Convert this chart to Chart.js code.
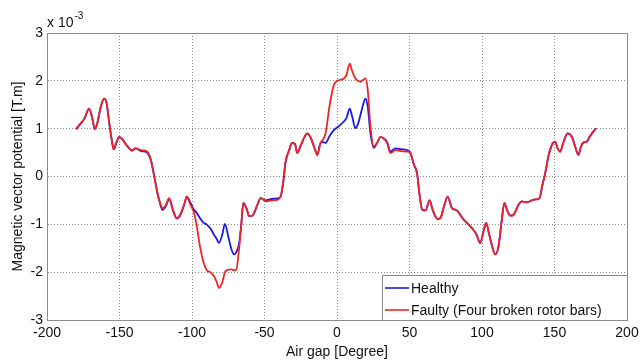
<!DOCTYPE html>
<html>
<head>
<meta charset="utf-8">
<script src="https://cdn.jsdelivr.net/npm/chart.js@4.4.1/dist/chart.umd.min.js"></script>
<style>
  html, body { margin: 0; padding: 0; background: #fff; }
  #wrap { width: 640px; height: 363px; }
</style>
</head>
<body>
<div id="wrap"><canvas id="grafico" width="640" height="363"></canvas></div>
<script>
// ángulo del entrehierro (grados) y potencial vectorial (x 10^-3 T.m)
const angulo = [
    -180, -177, -174, -171, -169, -167, -165, -163, -160.6, -159,
    -157, -155, -154, -152, -150.3, -148, -145, -143, -141.5, -138.8,
    -135, -132, -130, -128.4, -126, -123.8, -122, -120.4, -118, -115.8,
    -113, -110.5, -108, -105, -103.7,
    -101, -99, -97, -94.5, -92, -90, -87, -85, -83, -81.4,
    -79, -77.3, -75, -73, -71, -69.5, -67.5, -66, -64.6,
    -62, -60.7, -58.4, -55, -52.7, -49.2, -45, -41.2, -38.9, -37,
    -35.5, -33, -30.9, -29, -27.4, -25, -22, -20.5, -18, -15, -13.6, -11.4,
    -9.5, -7.9, -5, -2.2, 1.2, 4.7, 6.5, 8.8, 10.5, 12.7,
    14.5, 16.2, 18, 19.6, 21.2, 23.1, 25.3,
    28, 30, 32, 34.6, 36.8, 40.3, 44, 48.3, 50.6, 53,
    55.2, 57, 58.7, 61, 63.9, 66, 69.4, 71.3, 74, 76.3,
    79.3, 82.8, 85, 87.3, 90, 93.1, 96, 98.8, 101, 102.9,
    104.5, 106.4, 109.2, 111.4, 113.5, 115.4, 117.5, 119.5, 121.8, 125,
    127.5, 131, 134.4, 137, 139.7, 141.5, 143.6, 146, 148.9, 150.5,
    152, 153.9, 156, 159, 162, 164, 166.5, 168, 169.6, 172.3,
    174, 175.8, 178.7
];

const sano = [
    0.99, 1.10, 1.22, 1.42, 1.25, 0.99, 1.15, 1.45, 1.63, 1.55,
    1.10, 0.70, 0.57, 0.72, 0.83, 0.78, 0.65, 0.58, 0.54, 0.59,
    0.53, 0.52, 0.46, 0.35, 0.00, -0.35, -0.57, -0.70, -0.62, -0.47,
    -0.72, -0.88, -0.80, -0.55, -0.42,
    -0.55, -0.68, -0.75, -0.87, -0.97, -1.00, -1.10, -1.21, -1.30, -1.39,
    -1.20, -0.99, -1.25, -1.50, -1.63, -1.58, -1.40, -1.00, -0.55,
    -0.70, -0.83, -0.82, -0.60, -0.45, -0.50, -0.47, -0.46, -0.42, -0.10,
    0.30, 0.55, 0.70, 0.68, 0.49, 0.65, 0.85, 0.90, 0.80, 0.55, 0.45, 0.70,
    0.72, 0.70, 0.85, 0.97, 1.05, 1.15, 1.22, 1.42, 1.25, 1.01,
    1.10, 1.29, 1.50, 1.63, 1.46, 0.90, 0.60,
    0.72, 0.83, 0.80, 0.72, 0.52, 0.59, 0.57, 0.55, 0.50, 0.25,
    0.07, -0.40, -0.69, -0.71, -0.50, -0.70, -0.89, -0.87, -0.60, -0.42,
    -0.66, -0.71, -0.80, -0.90, -0.98, -1.08, -1.20, -1.39, -1.15, -0.97,
    -1.15, -1.39, -1.63, -1.46, -0.95, -0.55, -0.72, -0.82, -0.80, -0.60,
    -0.52, -0.54, -0.50, -0.48, -0.45, -0.20, 0.07, 0.45, 0.70, 0.73,
    0.60, 0.52, 0.70, 0.90, 0.83, 0.65, 0.45, 0.60, 0.70, 0.73,
    0.82, 0.90, 1.01
];

const fallado = [
    0.99, 1.10, 1.22, 1.42, 1.25, 0.99, 1.15, 1.45, 1.63, 1.55,
    1.10, 0.70, 0.57, 0.72, 0.83, 0.78, 0.65, 0.58, 0.54, 0.59,
    0.55, 0.54, 0.48, 0.35, 0.00, -0.35, -0.55, -0.66, -0.60, -0.45,
    -0.70, -0.87, -0.80, -0.55, -0.42,
    -0.60, -0.72, -0.98, -1.46, -1.80, -1.95, -2.01, -2.08, -2.20, -2.33,
    -2.20, -2.00, -1.95, -1.94, -1.96, -1.95, -1.50, -1.00, -0.55,
    -0.70, -0.83, -0.82, -0.60, -0.45, -0.52, -0.50, -0.49, -0.42, -0.10,
    0.30, 0.55, 0.70, 0.68, 0.49, 0.65, 0.85, 0.90, 0.80, 0.55, 0.45, 0.70,
    0.78, 0.90, 1.50, 1.91, 2.01, 2.05, 2.12, 2.36, 2.20, 2.05,
    2.00, 1.98, 2.02, 2.05, 1.81, 1.04, 0.63,
    0.72, 0.83, 0.80, 0.70, 0.49, 0.55, 0.53, 0.52, 0.49, 0.25,
    0.07, -0.40, -0.69, -0.71, -0.50, -0.70, -0.89, -0.87, -0.60, -0.42,
    -0.66, -0.71, -0.80, -0.90, -0.98, -1.08, -1.20, -1.39, -1.15, -0.97,
    -1.15, -1.39, -1.63, -1.46, -0.95, -0.55, -0.72, -0.82, -0.80, -0.60,
    -0.52, -0.54, -0.50, -0.48, -0.45, -0.20, 0.07, 0.45, 0.70, 0.73,
    0.60, 0.52, 0.70, 0.90, 0.83, 0.65, 0.45, 0.60, 0.70, 0.73,
    0.82, 0.90, 1.01
];

const nombres = ['Healthy', 'Faulty (Four broken rotor bars)'];
const colores = ['#1a1ae0', '#f02424'];

const fuente = '"Liberation Sans", Arial, sans-serif';
const gris = '#8c8c8c';

function puntos(valores) {
    return angulo.map((a, i) => ({ x: a, y: valores[i] }));
}

// marco, leyenda y multiplicador al estilo MATLAB
const marcoMatlab = {
    id: 'marcoMatlab',
    afterDraw(chart) {
        const ctx = chart.ctx;
        const a = chart.chartArea;
        ctx.save();
        ctx.strokeStyle = gris;
        ctx.lineWidth = 1;
        ctx.strokeRect(a.left + 0.5, a.top + 0.5, a.right - a.left, a.bottom - a.top);

        // multiplicador x 10^-3
        ctx.fillStyle = '#111';
        ctx.textBaseline = 'alphabetic';
        ctx.font = '14px ' + fuente;
        ctx.fillText('x 10', a.left, a.top - 6);
        const w = ctx.measureText('x 10').width;
        ctx.font = '10px ' + fuente;
        ctx.fillText('-3', a.left + w + 1, a.top - 14);

        // leyenda
        const lx = a.right - 245, ly = a.bottom - 45;
        ctx.fillStyle = '#fff';
        ctx.fillRect(lx, ly, a.right - lx, a.bottom - ly);
        ctx.strokeStyle = gris;
        ctx.strokeRect(lx + 0.5, ly + 0.5, a.right - lx, a.bottom - ly);
        ctx.font = '14px ' + fuente;
        ctx.textBaseline = 'middle';
        nombres.forEach((n, i) => {
            const y = ly + 13 + i * 22;
            ctx.strokeStyle = colores[i];
            ctx.lineWidth = 1.6;
            ctx.beginPath();
            ctx.moveTo(lx + 3, y);
            ctx.lineTo(lx + 27, y);
            ctx.stroke();
            ctx.fillStyle = '#111';
            ctx.fillText(n, lx + 29, y + 1);
        });
        ctx.restore();
    }
};

const grafico = new Chart(document.getElementById('grafico').getContext('2d'), {
    type: 'line',
    data: {
        datasets: [{
            label: nombres[0],
            data: puntos(sano),
            borderColor: colores[0],
            borderWidth: 1.8,
            pointRadius: 0,
            cubicInterpolationMode: 'monotone',
            order: 1
        }, {
            label: nombres[1],
            data: puntos(fallado),
            borderColor: colores[1],
            borderWidth: 1.8,
            pointRadius: 0,
            cubicInterpolationMode: 'monotone',
            order: 0
        }]
    },
    options: {
        responsive: false,
        animation: false,
        layout: { padding: { left: 0, right: 13, top: 33, bottom: 0 } },
        plugins: {
            legend: { display: false },
            tooltip: { enabled: false }
        },
        scales: {
            x: {
                type: 'linear',
                min: -200,
                max: 200,
                afterFit: (s) => {
                    s.height = 43;
                    s.paddingLeft = 0;
                    s.paddingRight = 0;
                },
                ticks: {
                    stepSize: 50,
                    padding: 5,
                    color: '#111',
                    maxRotation: 0,
                    font: { family: fuente, size: 14 }
                },
                grid: { color: gris, drawTicks: false },
                border: { color: gris, dash: [1, 2] },
                title: {
                    display: true,
                    text: 'Air gap [Degree]',
                    color: '#111',
                    font: { family: fuente, size: 14 },
                    padding: { top: 0, bottom: 2 }
                }
            },
            y: {
                min: -3,
                max: 3,
                afterFit: (s) => { s.width = 47; },
                ticks: {
                    stepSize: 1,
                    padding: 4,
                    color: '#111',
                    font: { family: fuente, size: 14 }
                },
                grid: { color: gris, drawTicks: false },
                border: { color: gris, dash: [1, 2] },
                title: {
                    display: true,
                    text: 'Magnetic vector potential [T.m]',
                    color: '#111',
                    font: { family: fuente, size: 14 },
                    padding: { top: 10, bottom: 0 }
                }
            }
        }
    },
    plugins: [marcoMatlab]
});
</script>
</body>
</html>
